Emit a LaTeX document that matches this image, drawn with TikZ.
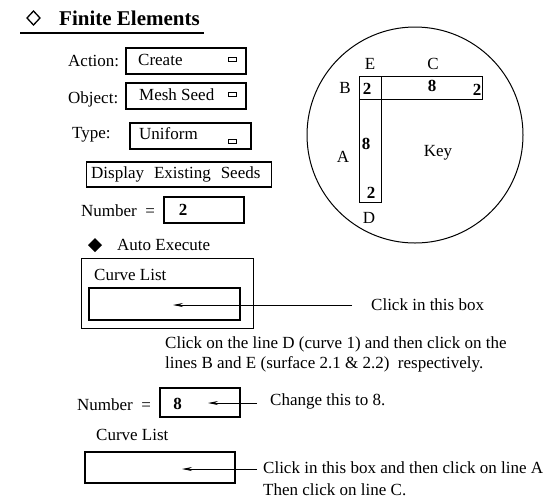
\documentclass[tikz,border=0pt]{standalone}
\usepackage{fontspec}
\setmainfont{Liberation Serif}
\usetikzlibrary{arrows.meta}
\begin{document}
\begin{tikzpicture}[x=1pt,y={(0pt,-1pt)},
  lab/.style={anchor=west,inner sep=0pt,font=\fontsize{17}{20}\selectfont},
  ctr/.style={inner sep=0pt,font=\fontsize{17}{20}\selectfont},
  bctr/.style={inner sep=0pt,font=\fontsize{17}{20}\selectfont\bfseries},
  fbox/.style={draw,line width=1.3pt,inner sep=0pt,outer sep=0pt},
  tbox/.style={draw,line width=2pt,inner sep=0pt,outer sep=0pt},
  obox/.style={draw,line width=1pt,inner sep=0pt,outer sep=0pt},
  mini/.style={draw,line width=1pt,inner sep=0pt,minimum width=8pt,minimum height=4pt},
  arr/.style={line width=0.8pt,-{Stealth[length=10pt,width=4pt]}},
  kbox/.style={draw,line width=1pt,inner sep=0pt,outer sep=0pt}
]
\useasboundingbox (0,0) rectangle (559,499);

% title
\draw[line width=1.3pt] (33.5,11) -- (40,18) -- (33.5,25) -- (27,18) -- cycle;
\node[anchor=west,inner sep=0pt,font=\fontsize{21}{24}\selectfont\bfseries] (title) at (59,18) {Finite Elements};
\draw[line width=1.3pt] (20,33) -- (204,33);

% Action
\node[lab] (actl) at (68,61) {Action:};
\node[fbox,minimum width=120pt,minimum height=26pt] (actb) at (186,61) {};
\node[lab] (actt) at (138,60) {Create};
\node[mini] (actm) at (232,59) {};

% Object
\node[lab] (objl) at (68,99) {Object:};
\node[fbox,minimum width=120pt,minimum height=26pt] (objb) at (186,96) {};
\node[lab] (objt) at (139,95) {Mesh Seed};
\node[mini] (objm) at (232,94.5) {};

% Type
\node[lab] (typl) at (72,135) {Type:};
\node[fbox,minimum width=121pt,minimum height=26pt] (typb) at (190.5,136) {};
\node[lab] (typt) at (139,134) {Uniform};
\node[mini] (typm) at (232,141.5) {};

% Display existing seeds
\node[fbox,minimum width=185pt,minimum height=25pt] (disp) at (179,174.5) {};
\node[lab] (dispt) at (91,174) {Display\hspace{10pt}Existing\hspace{10pt}Seeds};

% Number = 2
\node[lab] (num1l) at (81,211) {Number\ \ =};
\node[tbox,minimum width=80pt,minimum height=26pt] (num1b) at (204,210) {};
\node[bctr] (num1v) at (183,210) {2};

% Auto execute
\fill (95,238) -- (102,245) -- (95,252) -- (88,245) -- cycle;
\node[lab] (auto) at (117,245) {Auto Execute};

% Curve list 1
\node[obox,minimum width=172pt,minimum height=70pt] (cl1o) at (167,293) {};
\node[lab] (cl1t) at (94,275) {Curve List};
\node[tbox,minimum width=151pt,minimum height=32pt] (cl1b) at (164.5,304) {};
\coordinate (a1s) at (352,305);
\coordinate (a1e) at (173,305);
\draw[arr] (a1s) -- (a1e);
\node[lab] (a1t) at (371,305) {Click in this box};

% instructions
\node[lab] (ins1) at (165,344) {Click on the line D (curve 1) and then click on the};
\node[lab] (ins2) at (165,364) {lines B and E (surface 2.1 \& 2.2)\ \ respectively.};

% Number = 8
\node[lab] (num2l) at (77,405) {Number\ \ =};
\node[tbox,minimum width=80pt,minimum height=29pt] (num2b) at (200,402.5) {};
\node[bctr] (num2v) at (177.5,404) {8};
\coordinate (a2s) at (257,403);
\coordinate (a2e) at (208,403);
\draw[arr] (a2s) -- (a2e);
\node[lab] (a2t) at (270,401) {Change this to 8.};

% Curve list 2
\node[lab] (cl2t) at (96,435) {Curve List};
\node[tbox,minimum width=150pt,minimum height=31pt] (cl2b) at (160,467.5) {};
\coordinate (a3s) at (257,469);
\coordinate (a3e) at (182,469);
\draw[arr] (a3s) -- (a3e);
\node[lab] (a3t) at (263,468) {Click in this box and then click on line A};
\node[lab] (a3u) at (263,490) {Then click on line C.};

% Key
\node[draw,circle,line width=1pt,minimum size=216pt,inner sep=0pt] (keyc) at (415,135) {};
\node[kbox,minimum width=22pt,minimum height=23pt] (sq) at (370,87.5) {};
\node[kbox,minimum width=101pt,minimum height=23pt] (hbar) at (431.5,87.5) {};
\node[kbox,minimum width=22pt,minimum height=103pt] (vbar) at (370,150.5) {};
\node[ctr] (kE) at (370,64) {E};
\node[ctr] (kC) at (433,64) {C};
\node[ctr] (kB) at (345,88) {B};
\node[bctr] (k2a) at (367,89) {2};
\node[bctr] (k8a) at (432,86) {8};
\node[bctr] (k2b) at (477,90) {2};
\node[bctr] (k8b) at (366,144) {8};
\node[ctr] (kA) at (343,157) {A};
\node[ctr] (kKey) at (438,153) {Key};
\node[bctr] (k2c) at (371,193) {2};
\node[ctr] (kD) at (369,218) {D};
\end{tikzpicture}
\end{document}
